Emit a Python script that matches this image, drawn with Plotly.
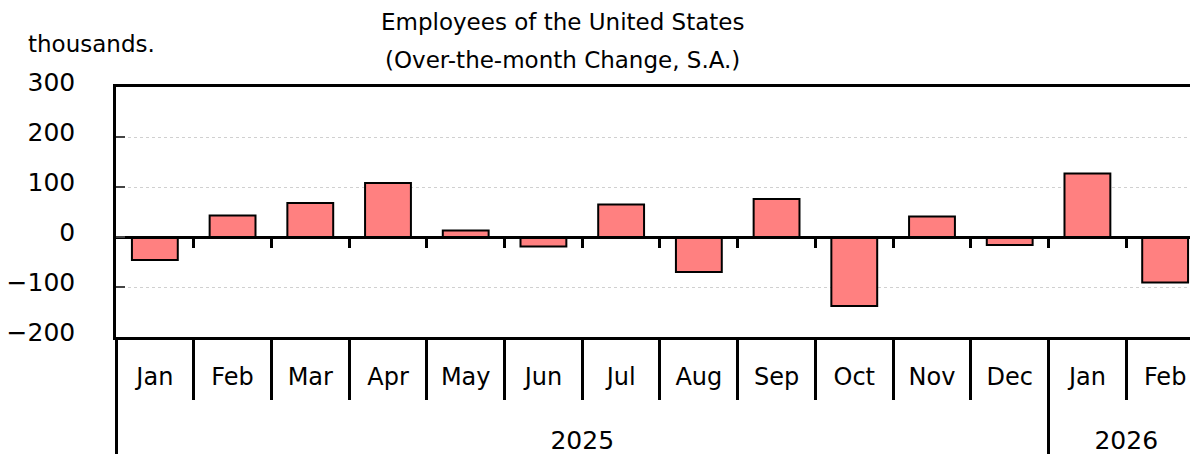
import plotly.graph_objects as go

# ---- data ----
months = ["Jan", "Feb", "Mar", "Apr", "May", "Jun", "Jul", "Aug", "Sep", "Oct", "Nov", "Dec", "Jan", "Feb"]
month_year = ["2025", "2025", "2025", "2025", "2025", "2025", "2025", "2025", "2025", "2025", "2025", "2025", "2026", "2026"]
years = ["2025", "2026"]
values = [-46, 43, 68, 108, 13, -19, 65, -70, 76, -138, 41, -16, 127, -91]
y_ticks = [-200, -100, 0, 100, 200, 300]
y_ticktext = ["\u2212200", "\u2212100", "0", "100", "200", "300"]

title1 = "Employees of the United States"
title2 = "(Over-the-month Change, S.A.)"
unit = "thousands."

FONT = "DejaVu Sans"
positions = list(range(len(months)))
boundaries = [p + 0.5 for p in positions[:-1]]
year_centers = []
year_bounds = [positions[0] - 0.5]
for yr in years:
    idx = [p for p, m in zip(positions, month_year) if m == yr]
    year_centers.append(sum(idx) / len(idx))
    if idx[0] != positions[0]:
        year_bounds.append(idx[0] - 0.5)

xrange = [-0.5, 13.32]

fig = go.Figure()
fig.add_trace(go.Bar(
    x=positions, y=values, width=0.59,
    marker=dict(color="#FF8080", line=dict(color="black", width=2)),
    hoverinfo="skip", showlegend=False,
))
for ax in ["x2", "x3", "x4", "x5"]:
    fig.add_trace(go.Scatter(x=[None], y=[None], xaxis=ax, yaxis="y",
                             showlegend=False, hoverinfo="skip"))

common = dict(range=xrange, showgrid=False, zeroline=False, fixedrange=True)

fig.update_layout(
    width=1190, height=454,
    margin=dict(l=116, r=0, t=87, b=117),
    plot_bgcolor="white", paper_bgcolor="white",
    font=dict(family=FONT, color="black"),
    showlegend=False,
    xaxis=dict(**common, type="linear", tickmode="array", tickvals=positions, ticktext=months,
               ticks="", showline=True, linewidth=2.5, linecolor="black", mirror=True,
               tickfont=dict(size=24, family=FONT), ticklabelstandoff=16),
    # zero line with short boundary ticks
    xaxis2=dict(**common, type="linear", overlaying="x", anchor="free", position=0.4,
                showline=True, linewidth=2.5, linecolor="black",
                tickmode="array", tickvals=boundaries, ticktext=[""] * len(boundaries),
                ticks="outside", ticklen=9, tickwidth=2.5, tickcolor="black", showticklabels=False),
    # month boundary ticks below the axis
    xaxis3=dict(**common, type="linear", overlaying="x", anchor="y", side="bottom",
                showline=False, tickmode="array", tickvals=boundaries,
                ticks="outside", ticklen=62, tickwidth=2.5, tickcolor="black", showticklabels=False),
    # year dividers
    xaxis4=dict(**common, type="linear", overlaying="x", anchor="y", side="bottom",
                showline=False, tickmode="array", tickvals=year_bounds,
                ticks="outside", ticklen=118, tickwidth=2.5, tickcolor="black", showticklabels=False),
    # year labels
    xaxis5=dict(**common, type="linear", overlaying="x", anchor="y", side="bottom",
                showline=False, tickmode="array", tickvals=year_centers, ticktext=years,
                ticks="", tickfont=dict(size=25, family=FONT), ticklabelstandoff=86),
    yaxis=dict(range=[-200, 300], tickmode="array", tickvals=y_ticks, ticktext=y_ticktext,
               showline=True, linewidth=2.5, linecolor="black",
               ticks="inside", ticklen=9, tickwidth=2, tickcolor="#444",
               showgrid=True, gridcolor="#d0d0d0", griddash="dot", gridwidth=1,
               zeroline=False, tickfont=dict(size=25, family=FONT),
               ticklabelstandoff=33, ticklabelshift=-5, fixedrange=True),
    annotations=[
        dict(text=title1, x=0.416, y=1.259, xref="paper", yref="paper", xanchor="center",
             yanchor="middle", showarrow=False, font=dict(size=23, family=FONT)),
        dict(text=title2, x=0.416, y=1.107, xref="paper", yref="paper", xanchor="center",
             yanchor="middle", showarrow=False, font=dict(size=23, family=FONT)),
        dict(text=unit, x=-0.084, y=1.171, xref="paper", yref="paper", xanchor="left",
             yanchor="middle", showarrow=False, font=dict(size=23, family=FONT)),
    ],
)

fig.write_html("out.html")
